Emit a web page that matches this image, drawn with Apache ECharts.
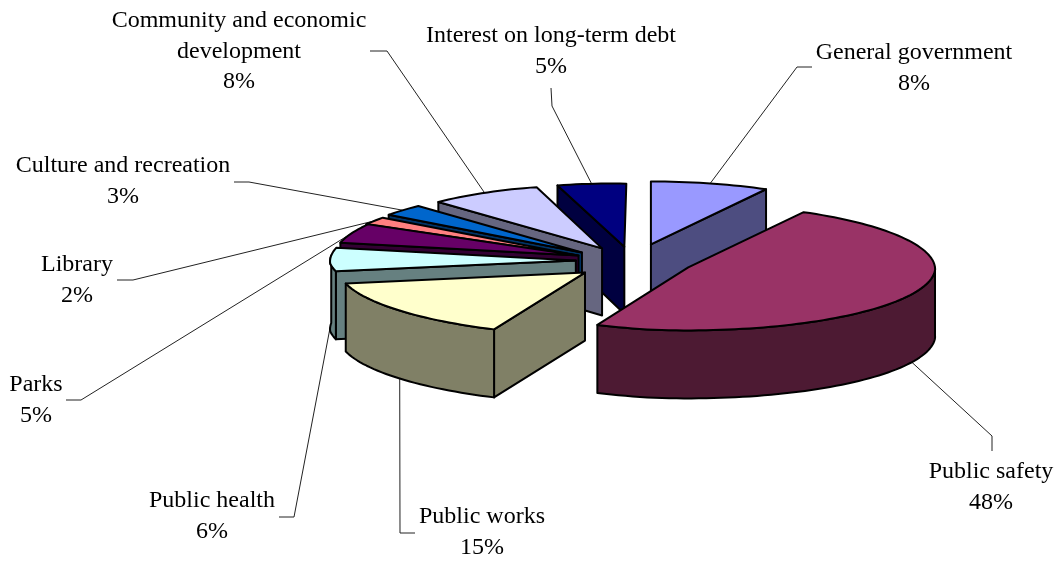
<!DOCTYPE html>
<html>
<head>
<meta charset="utf-8">
<title>Expenses by function</title>
<style>
html, body { margin: 0; padding: 0; background: #fff; }
#main { width: 1060px; height: 561px; }
</style>
<script src="https://cdn.jsdelivr.net/npm/echarts@6/dist/echarts.min.js"></script>
</head>
<body>
<div id="main"></div>
<script>
// clockwise from 12 o'clock
var categories = ['General government', 'Public safety', 'Public works', 'Public health', 'Parks',
	'Library', 'Culture and recreation', 'Community and economic development', 'Interest on long-term debt'];
var shares = [8, 48, 15, 6, 5, 2, 3, 8, 5];

var topColors = ['#9999FF', '#993366', '#FFFFCC', '#CCFFFF', '#660066', '#FF8080', '#0066CC', '#CCCCFF', '#000080'];
var sideColors = ['#4D4D80', '#4D1A33', '#808066', '#668080', '#330033', '#804040', '#003366', '#666680', '#000040'];

// back to front, slices overlap
var paintOrder = [0, 8, 7, 6, 5, 4, 3, 1, 2];

// label text position and the bend of each leader, in the same order as categories
var labelLayout = [
	{ x: 914, y: 53, lines: ['General government'], bend: [[797, 67], [812, 67]] },
	{ x: 991, y: 472, lines: ['Public safety'], bend: [[992, 436], [992, 451]] },
	{ x: 482, y: 517, lines: ['Public works'], bend: [[400, 533], [415, 533]] },
	{ x: 212, y: 501, lines: ['Public health'], bend: [[294, 517], [279, 517]] },
	{ x: 36, y: 385, lines: ['Parks'], bend: [[81, 400], [66, 400]] },
	{ x: 77, y: 265, lines: ['Library'], bend: [[133, 280], [117, 280]] },
	{ x: 123, y: 166, lines: ['Culture and recreation'], bend: [[249, 182], [234, 182]] },
	{ x: 239, y: 21, lines: ['Community and economic', 'development'], bend: [[387, 51], [370, 51]] },
	{ x: 551, y: 36, lines: ['Interest on long-term debt'], bend: [[552, 106], [551, 88]] }
];

// small per slice shift, the real 3D view is not a clean ellipse
var nudge = [[1, -2], [-1, 0], [-5, 3], [0, 0], [0, 0], [-7, 3], [-7, 2], [-2, 1], [-2, 1]];

var CX = 635, CY = 261;   // pie centre before explosion
var RX = 247, RY = 63;    // ellipse of the top face
var EX = 60, EY = 15;     // explosion
var DEPTH = 68;
var PI = Math.PI;

var total = shares.reduce(function(a, b) { return a + b; }, 0);
var angles = [];
var acc = 0;
for (var i = 0; i < shares.length; i++) {
	var start = acc / total * 2 * PI;
	acc += shares[i];
	angles.push({ start: start, end: acc / total * 2 * PI, mid: (start + acc / total * 2 * PI) / 2 });
}

// rough stand in for the perspective of the 3D view
function project(idx, theta, r, down) {
	var mid = angles[idx].mid;
	var x = CX + nudge[idx][0] + EX * Math.sin(mid) + RX * r * Math.sin(theta);
	var y = CY + nudge[idx][1] - EY * Math.cos(mid) - RY * r * Math.cos(theta);
	var k = x < 650 ? 0.0012 : 0.0004;
	var s = 1 - k * Math.max(0, 270 - y);
	x = 650 + (x - 650) * s;
	y -= 0.02 * Math.max(0, 650 - x);
	return [x, y + (down ? DEPTH * (1 - 0.0006 * Math.max(0, 270 - y)) : 0)];
}

function arcPoints(idx, from, to, down) {
	var pts = [];
	var n = Math.max(2, Math.ceil((to - from) / 0.03));
	for (var j = 0; j <= n; j++) {
		pts.push(project(idx, from + (to - from) * j / n, 1, down));
	}
	return pts;
}

function face(points, fill) {
	return {
		type: 'polygon',
		shape: { points: points },
		style: { fill: fill, stroke: '#000', lineWidth: 2, lineJoin: 'round' }
	};
}

function cutFace(idx, theta, fill) {
	return face([
		project(idx, 0, 0, false),
		project(idx, theta, 1, false),
		project(idx, theta, 1, true),
		project(idx, 0, 0, true)
	], fill);
}

function renderSlice(params, api) {
	var idx = api.value(0);
	var a = angles[idx];
	var children = [];
	// only faces turned to the viewer
	if (Math.sin(a.start) < -1e-6) children.push(cutFace(idx, a.start, sideColors[idx]));
	if (Math.sin(a.end) > 1e-6) children.push(cutFace(idx, a.end, sideColors[idx]));
	var from = Math.max(a.start, PI / 2), to = Math.min(a.end, 1.5 * PI);
	if (to > from) {
		children.push(face(arcPoints(idx, from, to, false).concat(arcPoints(idx, from, to, true).reverse()), sideColors[idx]));
	}
	children.push(face([project(idx, 0, 0, false)].concat(arcPoints(idx, a.start, a.end, false)), topColors[idx]));
	return { type: 'group', children: children };
}

function renderLabel(params, api) {
	var idx = api.value(0);
	var lay = labelLayout[idx];
	var mid = angles[idx].mid;
	// leaders on the front of the pie leave from the bottom rim
	var front = Math.cos(mid) < 0;
	var anchor = project(idx, mid, 1, front);
	var children = [{
		type: 'polyline',
		shape: { points: [anchor].concat(lay.bend) },
		style: { fill: 'none', stroke: '#222', lineWidth: 1 }
	}];
	var lines = lay.lines.concat([Math.round(shares[idx] / total * 100) + '%']);
	lines.forEach(function(txt, n) {
		children.push({
			type: 'text',
			style: {
				x: lay.x,
				y: lay.y + n * 30.5,
				text: txt,
				fill: '#000',
				font: '24px "Liberation Serif", "Times New Roman", serif',
				align: 'center',
				verticalAlign: 'middle'
			}
		});
	});
	return { type: 'group', children: children };
}

var chart = echarts.init(document.getElementById('main'));
var option = {
	backgroundColor: '#fff',
	animation: false,
	series: [
		{
			type: 'custom',
			coordinateSystem: 'none',
			renderItem: renderLabel,
			silent: true,
			data: categories.map(function(c, i) { return [i]; }),
			z: 1
		},
		{
			type: 'custom',
			coordinateSystem: 'none',
			renderItem: renderSlice,
			silent: true,
			data: paintOrder.map(function(i) { return [i]; }),
			z: 2
		}
	]
};
chart.setOption(option);
</script>
</body>
</html>
